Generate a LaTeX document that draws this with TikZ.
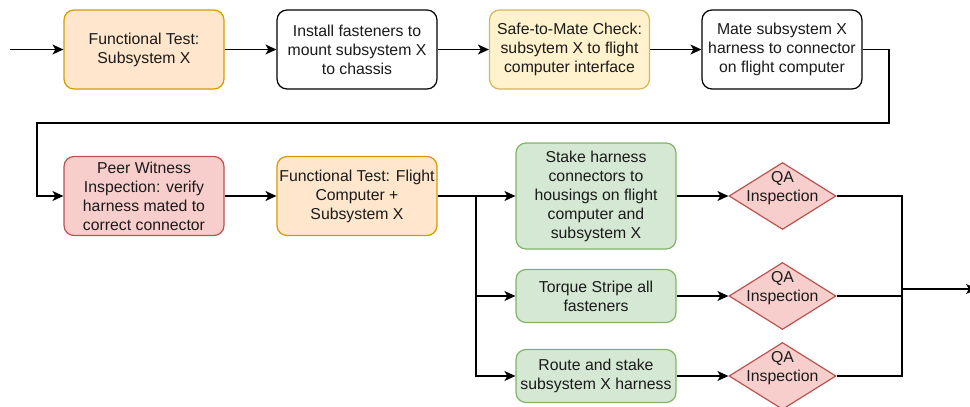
\documentclass[tikz,border=0pt]{standalone}
\usepackage{fontspec}
\setmainfont{Liberation Sans}
\usetikzlibrary{shapes.geometric,arrows.meta}
\definecolor{orfill}{HTML}{FFE6CC}\definecolor{ordraw}{HTML}{D79B00}
\definecolor{yefill}{HTML}{FFF2CC}\definecolor{yedraw}{HTML}{D6B656}
\definecolor{rdfill}{HTML}{F8CECC}\definecolor{rddraw}{HTML}{B85450}
\definecolor{grfill}{HTML}{D5E8D4}\definecolor{grdraw}{HTML}{82B366}
\definecolor{txt}{HTML}{1A1A1A}
\tikzset{
  base/.style={rectangle, rounded corners=10pt, line width=1.2pt, inner sep=0pt,
    minimum width=160pt, align=center, text=txt,
    font=\fontsize{15.8}{19}\selectfont},
  whitebox/.style={base, draw=black, fill=white, minimum height=79pt},
  orbox/.style={base, draw=ordraw, fill=orfill, minimum height=79pt},
  yebox/.style={base, draw=yedraw, fill=yefill, minimum height=79pt},
  rdbox/.style={base, draw=rddraw, fill=rdfill, minimum height=79pt},
  grbox/.style={base, draw=grdraw, fill=grfill},
  qa/.style={diamond, draw=rddraw, fill=rdfill, line width=1.2pt, inner sep=0pt,
    minimum width=107pt, minimum height=67pt,
    label={[text=txt, font=\fontsize{15.8}{19}\selectfont, align=center, yshift=8pt]center:QA\\Inspection}},
  conn/.style={line width=1.2pt, draw=black},
  arr/.style={conn, -{Stealth[length=11pt,width=10pt,inset=3pt]}}
}
\begin{document}
\begin{tikzpicture}[x=1pt,y=-1pt]
\useasboundingbox (0,0) rectangle (970,407);
\node[orbox]    (b1) at (144,49.5) {Functional Test:\\Subsystem X};
\node[whitebox] (b2) at (357,49.5) {Install fasteners to\\mount subsystem X\\to chassis};
\node[yebox]    (b3) at (569.5,49.5) {Safe-to-Mate Check:\\subsytem X to flight\\computer interface};
\node[whitebox] (b4) at (782,49.5) {Mate subsystem X\\harness to connector\\on flight computer};
\node[rdbox]    (b5) at (144,196) {Peer Witness\\Inspection: verify\\harness mated to\\correct connector};
\node[orbox]    (b6) at (357,196) {Functional Test: Flight\\Computer +\\Subsystem X};
\node[grbox, minimum height=106pt] (b7) at (596,196) {Stake harness\\connectors to\\housings on flight\\computer and\\subsystem X};
\node[grbox, minimum height=53pt] (b8) at (596,296) {Torque Stripe all\\fasteners};
\node[grbox, minimum height=53pt] (b9) at (596,376) {Route and stake\\subsystem X harness};
\node[qa] (q1) at (782.5,196) {};
\node[qa] (q2) at (782.5,296) {};
\node[qa] (q3) at (782.5,376) {};
\coordinate (in) at (10,49.5);
\coordinate (r1) at (889,49.5);
\coordinate (r2) at (889,123);
\coordinate (l1) at (37,123);
\coordinate (j) at (476,196);
\coordinate (k) at (902,289);
\coordinate (out) at (977,289);
\draw[arr] (in) -- (b1);
\draw[arr] (b1) -- (b2);
\draw[arr] (b2) -- (b3);
\draw[arr] (b3) -- (b4);
\draw[arr] (b4.east) -- (r1) -- (r2) -- (l1) |- (b5.west);
\draw[arr] (b5) -- (b6);
\draw[conn] (b6.east) -- (j);
\draw[arr] (j) -- (b7.west);
\draw[arr] (j) |- (b8.west);
\draw[arr] (j) |- (b9.west);
\draw[arr] (b7) -- (q1);
\draw[arr] (b8) -- (q2);
\draw[arr] (b9) -- (q3);
\draw[conn] (q1.east) -| (k);
\draw[conn] (q2.east) -| (k);
\draw[conn] (q3.east) -| (k);
\draw[arr] (k) -- (out);
\end{tikzpicture}
\end{document}
